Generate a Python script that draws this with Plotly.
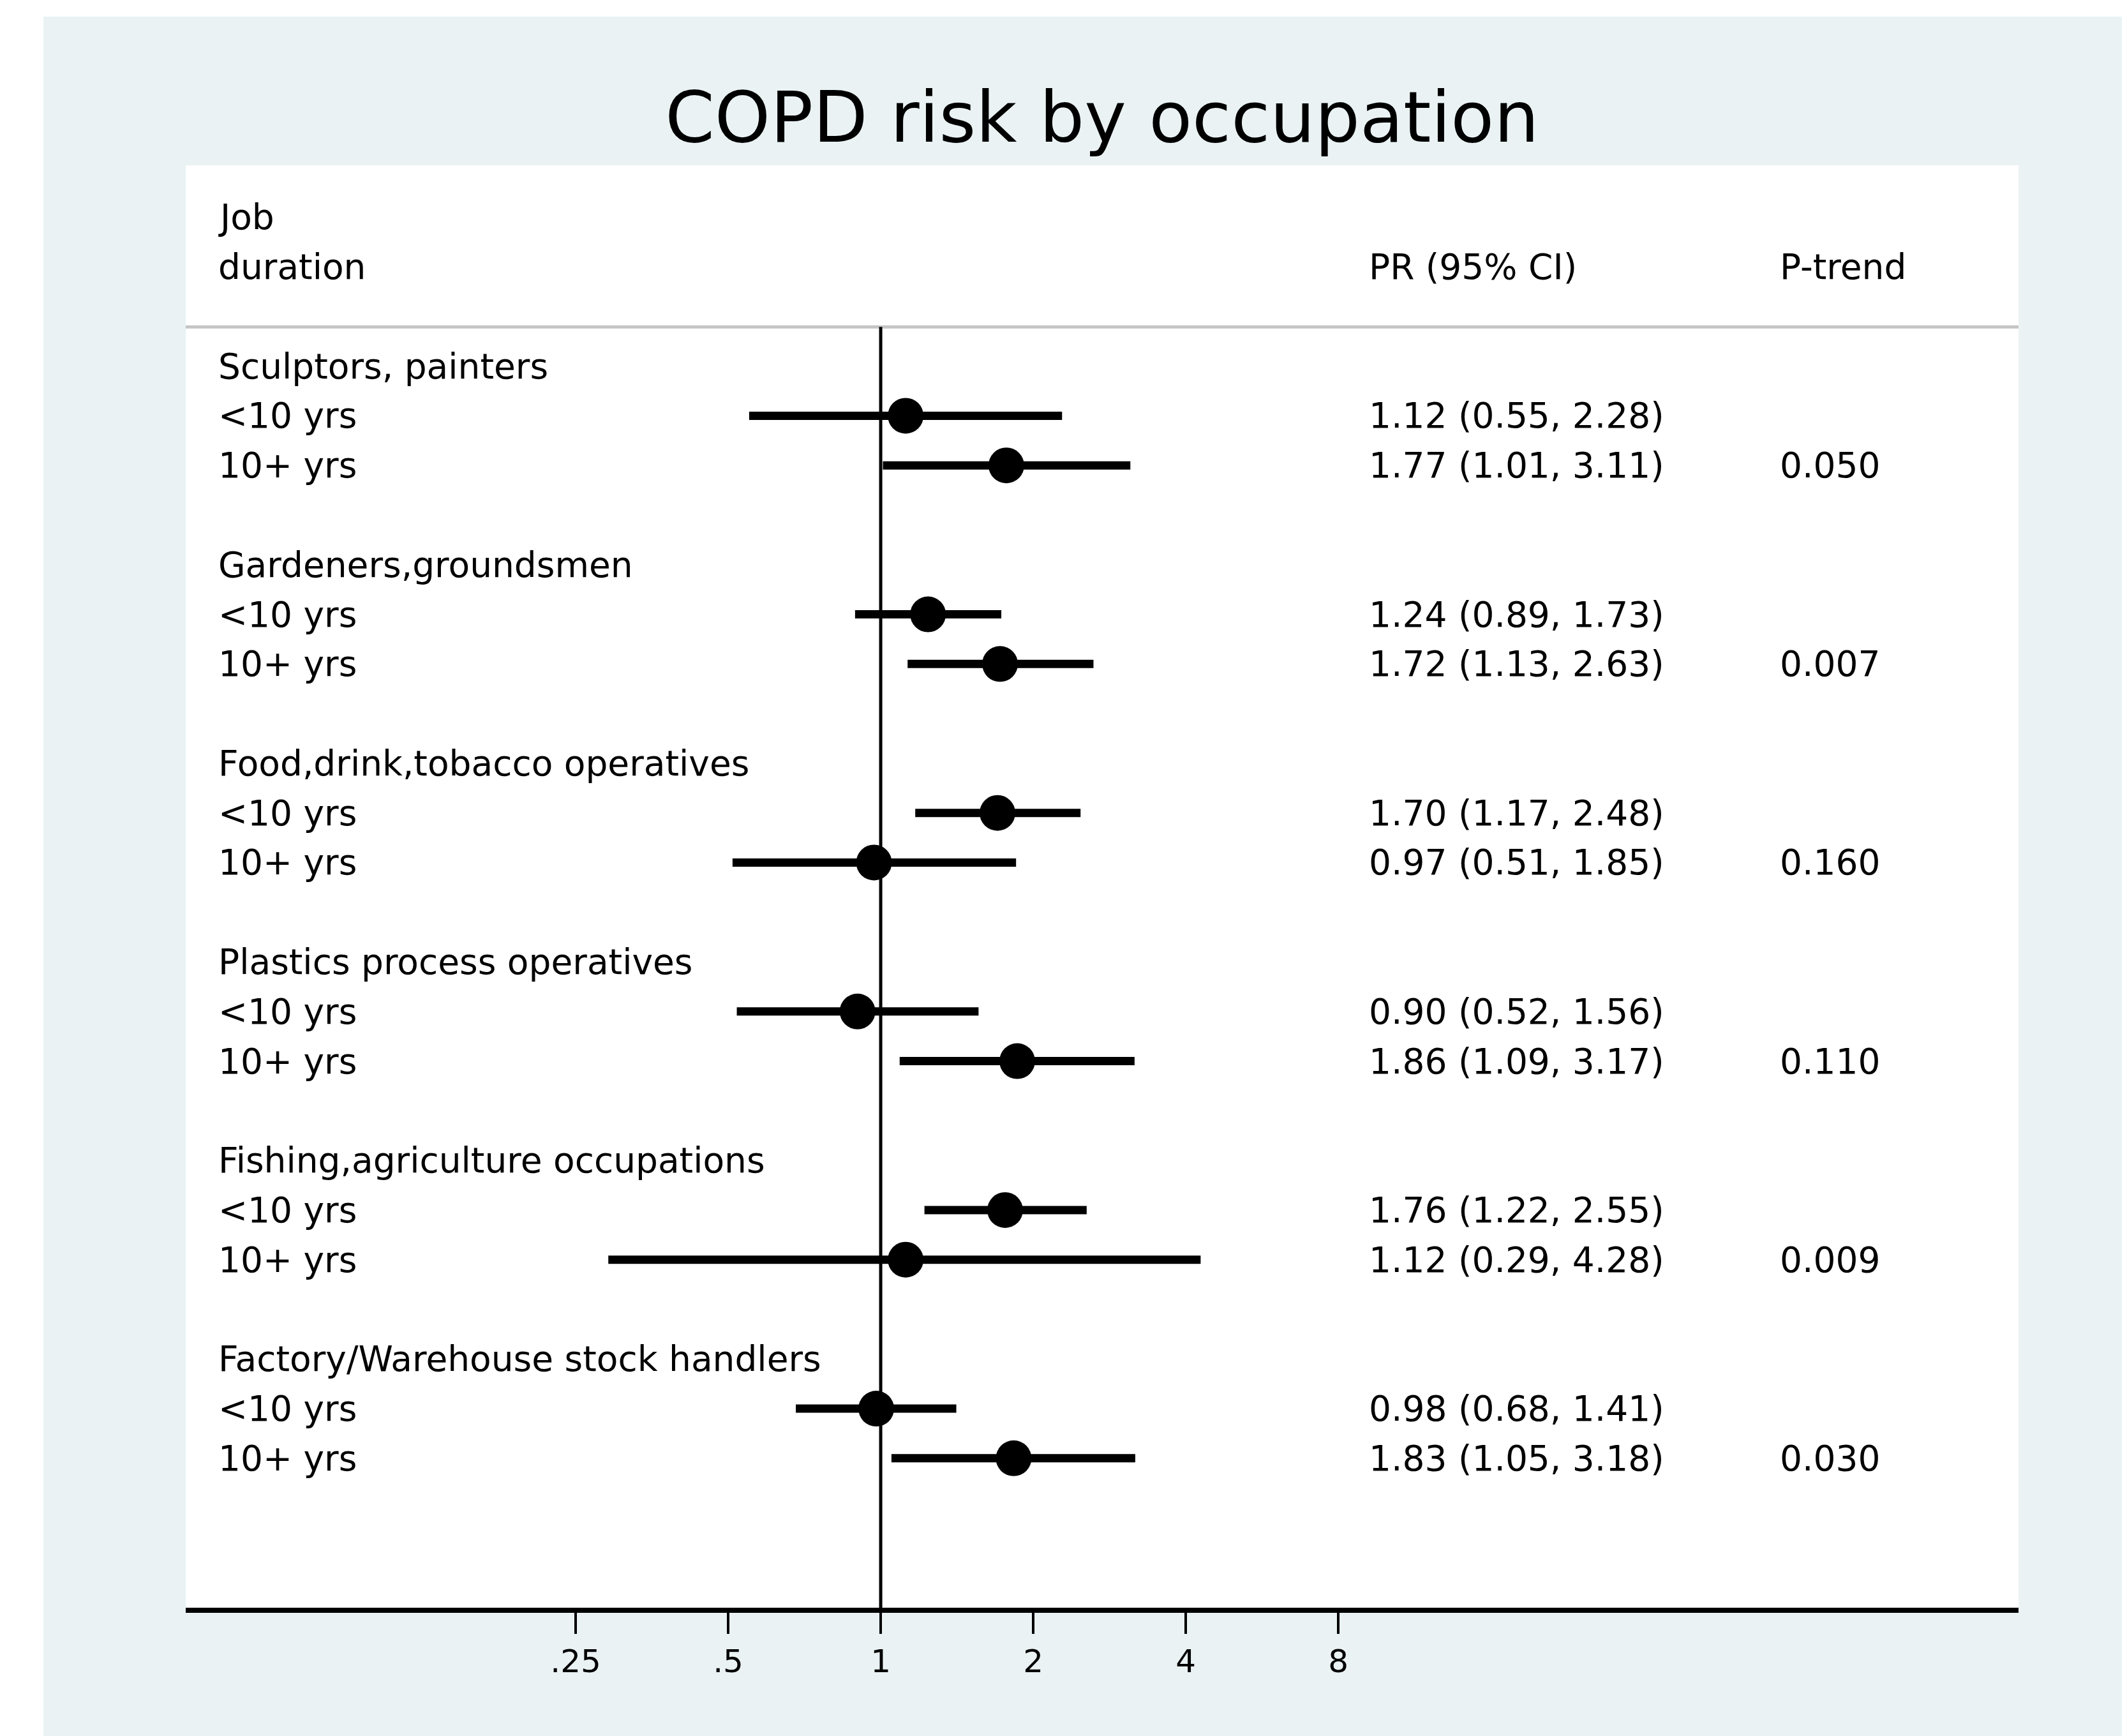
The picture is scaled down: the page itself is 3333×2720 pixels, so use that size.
import plotly.graph_objects as go

occupations = ["Sculptors, painters", "Gardeners,groundsmen", "Food,drink,tobacco operatives",
               "Plastics process operatives", "Fishing,agriculture occupations",
               "Factory/Warehouse stock handlers"]
durations = ["<10 yrs", "10+ yrs"]
pr_lt10 = [1.12, 1.24, 1.70, 0.90, 1.76, 0.98]
lo_lt10 = [0.55, 0.89, 1.17, 0.52, 1.22, 0.68]
hi_lt10 = [2.28, 1.73, 2.48, 1.56, 2.55, 1.41]
pr_10p = [1.77, 1.72, 0.97, 1.86, 1.12, 1.83]
lo_10p = [1.01, 1.13, 0.51, 1.09, 0.29, 1.05]
hi_10p = [3.11, 2.63, 1.85, 3.17, 4.28, 3.18]
p_trend = ["0.050", "0.007", "0.160", "0.110", "0.009", "0.030"]
tick_vals = [0.25, 0.5, 1, 2, 4, 8]
tick_text = [".25", ".5", "1", "2", "4", "8"]

FONT = "DejaVu Sans"
ROW_FS = 55

# build rows: each group = header row, <10, 10+, blank
ys, xs, los, his = [], [], [], []
annotations = []
for g, occ in enumerate(occupations):
    base = 4 * g
    annotations.append(dict(x=0.017, y=base, text=occ))
    series = [(pr_lt10[g], lo_lt10[g], hi_lt10[g]), (pr_10p[g], lo_10p[g], hi_10p[g])]
    for k, (pr, lo, hi) in enumerate(series):
        row = base + 1 + k
        ys.append(row); xs.append(pr); los.append(lo); his.append(hi)
        annotations.append(dict(x=0.017, y=row, text=durations[k]))
        annotations.append(dict(x=0.6448, y=row, text=f"{pr:.2f} ({lo:.2f}, {hi:.2f})"))
    annotations.append(dict(x=0.8691, y=base + 2, text=p_trend[g]))

# header
annotations += [
    dict(x=0.017, y=-3, text="Job"),
    dict(x=0.017, y=-2, text="duration"),
    dict(x=0.6448, y=-2, text="PR (95% CI)"),
    dict(x=0.8691, y=-2, text="P-trend"),
]
for a in annotations:
    a.update(xref="paper", yref="y", xanchor="left", yanchor="middle", showarrow=False,
             font=dict(family=FONT, size=ROW_FS, color="black"))

fig = go.Figure()
fig.add_trace(go.Scatter(
    x=xs, y=ys, mode="markers",
    marker=dict(symbol="circle", size=56, color="black", line=dict(width=0)),
    error_x=dict(type="data", symmetric=False,
                 array=[h - p for h, p in zip(his, xs)],
                 arrayminus=[p - l for p, l in zip(xs, los)],
                 thickness=13, width=0, color="black"),
    showlegend=False, hoverinfo="skip",
))

shapes = [
    # outer light background
    dict(type="rect", xref="paper", yref="paper", x0=-0.0776, x1=1.08, y0=-0.1, y1=1.1031,
         fillcolor="#EAF2F3", line=dict(width=0), layer="below"),
    # white plot region
    dict(type="rect", xref="paper", yref="paper", x0=0, x1=1, y0=0, y1=1,
         fillcolor="white", line=dict(width=0), layer="below"),
    # header separator
    dict(type="line", xref="paper", yref="y", x0=0, x1=1, y0=-0.79, y1=-0.79,
         line=dict(color="#C4C4C4", width=5), layer="below"),
    # reference line at PR = 1
    dict(type="line", xref="x", yref="y", x0=1, x1=1, y0=-0.79, y1=25.01,
         line=dict(color="black", width=5), layer="below"),
]

W, H = 3325, 2712  # page body has an 8px margin
fig.update_layout(
    width=W, height=H,
    margin=dict(l=283, r=170, t=251, b=201),
    paper_bgcolor="white", plot_bgcolor="white",
    title=dict(text="COPD risk by occupation", x=0.5, xref="paper", xanchor="center",
               y=1 - 175 / H, yref="container", yanchor="middle",
               font=dict(family=FONT, size=111, color="black")),
    xaxis=dict(type="log", range=[-1.3717, 2.2457], tickvals=tick_vals, ticktext=tick_text,
               showgrid=False, zeroline=False, showline=True, linecolor="black", linewidth=8,
               ticks="outside", ticklen=33, tickwidth=4, tickcolor="black",
               tickfont=dict(family=FONT, size=50, color="black"), fixedrange=True),
    yaxis=dict(range=[25.01, -4.045], showgrid=False, zeroline=False, showline=False,
               showticklabels=False, ticks="", fixedrange=True),
    shapes=shapes,
    annotations=annotations,
    font=dict(family=FONT, color="black"),
)

fig.write_html("out.html")
